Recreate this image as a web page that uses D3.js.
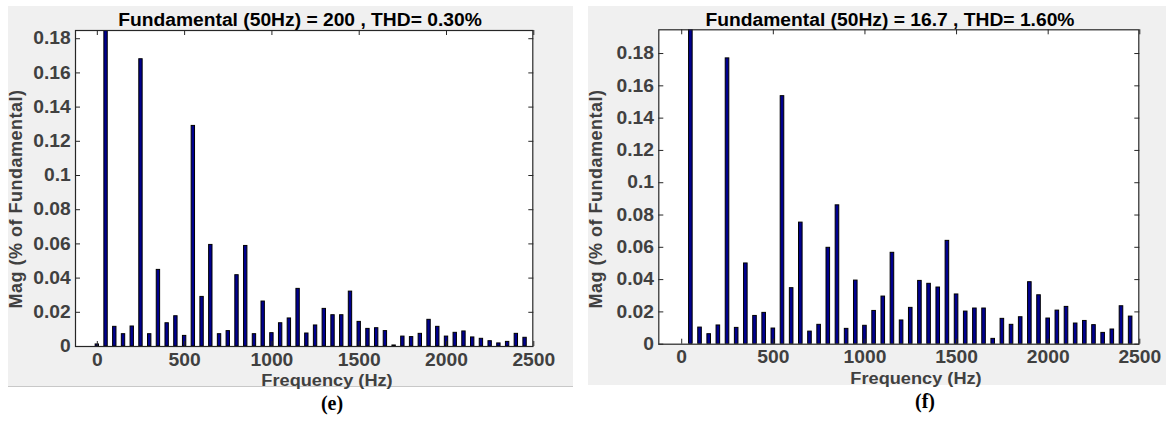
<!DOCTYPE html>
<html>
<head>
<meta charset="utf-8">
<script src="https://cdn.jsdelivr.net/npm/d3@7"></script>
<style>
  html, body { margin: 0; padding: 0; background: #ffffff; }
  svg { display: block; }
</style>
</head>
<body>
<svg id="chart" width="1166" height="423"></svg>
<script>
// Harmonic frequencies of the FFT spectrum (Hz)
const frequencies = [
  0, 50, 100, 150, 200, 250, 300, 350, 400, 450,
  500, 550, 600, 650, 700, 750, 800, 850, 900, 950,
  1000, 1050, 1100, 1150, 1200, 1250, 1300, 1350, 1400, 1450,
  1500, 1550, 1600, 1650, 1700, 1750, 1800, 1850, 1900, 1950,
  2000, 2050, 2100, 2150, 2200, 2250, 2300, 2350, 2400, 2450
];

// Case (e): magnitudes in % of fundamental (fundamental = 100)
const magnitudesE = [
  0.0012, 100, 0.0115, 0.0072, 0.0117, 0.168, 0.0072, 0.0448, 0.0136, 0.0177,
  0.0062, 0.129, 0.029, 0.0594, 0.0072, 0.009, 0.0417, 0.0588, 0.0072, 0.0263,
  0.0078, 0.0136, 0.0164, 0.0337, 0.0076, 0.0123, 0.022, 0.0183, 0.0183, 0.0321,
  0.0144, 0.0103, 0.0107, 0.009, 0.0006, 0.0058, 0.0055, 0.0074, 0.0156, 0.0115,
  0.0058, 0.008, 0.0088, 0.0053, 0.0045, 0.0031, 0.0018, 0.0027, 0.0074, 0.0051
];

// Case (f): magnitudes in % of fundamental (fundamental = 100)
const magnitudesF = [
  0, 100, 0.0103, 0.0062, 0.0116, 0.177, 0.0101, 0.05, 0.0175, 0.0194,
  0.0097, 0.1536, 0.0347, 0.0753, 0.0078, 0.012, 0.0597, 0.086, 0.0095, 0.0394,
  0.0114, 0.0206, 0.0295, 0.0566, 0.0147, 0.0225, 0.0392, 0.0374, 0.0351, 0.064,
  0.0308, 0.0202, 0.0221, 0.0221, 0.0033, 0.0157, 0.012, 0.0167, 0.0384, 0.0303,
  0.0159, 0.0208, 0.0231, 0.0128, 0.0144, 0.0118, 0.007, 0.0091, 0.0235, 0.0171
];

const fundamentalFreq = 50;
const titleE = "Fundamental (50Hz) = 200 , THD= 0.30%";
const titleF = "Fundamental (50Hz) = 16.7 , THD= 1.60%";
const captionE = "(e)";
const captionF = "(f)";

const xTicks = [0, 500, 1000, 1500, 2000, 2500];
const xTickLabels = ["0", "500", "1000", "1500", "2000", "2500"];
const yTicks = [0, 0.02, 0.04, 0.06, 0.08, 0.1, 0.12, 0.14, 0.16, 0.18];
const yTickLabels = ["0", "0.02", "0.04", "0.06", "0.08", "0.1", "0.12", "0.14", "0.16", "0.18"];
const xLimits = [-125, 2500];

const xLabel = "Frequency (Hz)";
const yLabel = "Mag (% of Fundamental)";

const svg = d3.select("#chart");

const SANS = "'Liberation Sans', Arial, Helvetica, sans-serif";
const SERIF = "'Liberation Serif', 'Times New Roman', serif";
const BAR_FILL = "#00008f";
const AXIS_COLOR = "#262626";
const TEXT_GRAY = "#404040";
const FIG_BG = "#f0f0f0";
const STRETCH = 1.07;

function drawPanel(cfg, values, title, caption, id) {
  const g = svg.append("g").style("font-family", SANS);

  // figure background
  g.append("rect")
    .attr("x", cfg.bg.x0).attr("y", cfg.bg.y0)
    .attr("width", cfg.bg.x1 - cfg.bg.x0).attr("height", cfg.bg.y1 - cfg.bg.y0)
    .attr("fill", FIG_BG);
  if (cfg.bottomEdge) {
    g.append("line")
      .attr("x1", cfg.bg.x0).attr("x2", cfg.bg.x1)
      .attr("y1", cfg.bg.y1 - 0.5).attr("y2", cfg.bg.y1 - 0.5)
      .attr("stroke", "#c8c8c8");
  }

  const x = d3.scaleLinear().domain(xLimits).range([cfg.left, cfg.right]);
  // y-limit follows the largest harmonic (fundamental excluded) plus 10 %
  const harmonics = values.filter((v, i) => frequencies[i] !== fundamentalFreq);
  const y = d3.scaleLinear().domain([0, d3.max(harmonics) * 1.1]).range([cfg.bottom, cfg.top]);

  // plot area
  g.append("rect")
    .attr("x", cfg.left).attr("y", cfg.top)
    .attr("width", cfg.right - cfg.left).attr("height", cfg.bottom - cfg.top)
    .attr("fill", "#ffffff");

  g.append("clipPath").attr("id", "clip-" + id)
    .append("rect")
    .attr("x", cfg.left).attr("y", cfg.top)
    .attr("width", cfg.right - cfg.left).attr("height", cfg.bottom - cfg.top);

  const step = x(50) - x(0);
  const outer = step * 0.5;

  g.append("g").attr("clip-path", `url(#clip-${id})`)
    .selectAll("rect")
    .data(frequencies.map((f, i) => ({ f, v: values[i] })))
    .join("rect")
    .attr("x", d => x(d.f) - outer / 2 + 0.5)
    .attr("width", outer - 1)
    .attr("y", d => y(d.v))
    .attr("height", d => Math.max(0, y(0) - y(d.v)))
    .attr("fill", BAR_FILL)
    .attr("stroke", "#000000")
    .attr("stroke-width", 1);

  // axes
  const axB = g.append("g").attr("transform", `translate(0,${cfg.bottom})`)
    .call(d3.axisBottom(x).tickValues(xTicks)
      .tickFormat((d, i) => xTickLabels[i])
      .tickSizeInner(-5).tickSizeOuter(0).tickPadding(7));
  const axT = g.append("g").attr("transform", `translate(0,${cfg.top})`)
    .call(d3.axisTop(x).tickValues(xTicks).tickFormat("")
      .tickSizeInner(-5).tickSizeOuter(0));
  const axL = g.append("g").attr("transform", `translate(${cfg.left},0)`)
    .call(d3.axisLeft(y).tickValues(yTicks)
      .tickFormat((d, i) => yTickLabels[i])
      .tickSizeInner(-5).tickSizeOuter(0).tickPadding(4));
  const axR = g.append("g").attr("transform", `translate(${cfg.right},0)`)
    .call(d3.axisRight(y).tickValues(yTicks).tickFormat("")
      .tickSizeInner(-5).tickSizeOuter(0));

  [axB, axT, axL, axR].forEach(a => {
    a.attr("font-family", null).attr("font-size", null);
    a.select(".domain").remove();
    a.selectAll(".tick line").attr("stroke", AXIS_COLOR);
    a.selectAll("text")
      .attr("fill", TEXT_GRAY)
      .style("font-family", SANS)
      .style("font-size", "18px")
      .style("font-weight", "bold");
  });
  axB.selectAll(".tick text").attr("transform", `scale(${STRETCH},1)`);
  axL.selectAll(".tick text").attr("transform", `scale(${STRETCH},1)`);

  // box
  g.append("rect")
    .attr("x", cfg.left + 0.5).attr("y", cfg.top + 0.5)
    .attr("width", cfg.right - cfg.left - 1).attr("height", cfg.bottom - cfg.top)
    .attr("fill", "none").attr("stroke", AXIS_COLOR).attr("stroke-width", 1.2);

  // title
  g.append("text")
    .attr("transform", `translate(${cfg.titleX},${cfg.titleY}) scale(${STRETCH},1)`)
    .attr("text-anchor", "middle")
    .style("font-size", "18px").style("font-weight", "bold").attr("fill", "#000000")
    .text(title);

  // axis labels
  g.append("text")
    .attr("transform", `translate(${cfg.xLabelX},${cfg.xLabelY}) scale(${STRETCH},1)`)
    .attr("text-anchor", "middle")
    .style("font-size", "17px").style("font-weight", "bold").attr("fill", TEXT_GRAY)
    .text(xLabel);
  g.append("text")
    .attr("transform", `translate(${cfg.yLabelX},${cfg.yLabelY}) rotate(-90)`)
    .attr("text-anchor", "middle")
    .style("font-size", "18px").style("font-weight", "bold").attr("fill", TEXT_GRAY)
    .style("letter-spacing", "0.5px")
    .text(yLabel);

  // caption under the panel
  svg.append("text")
    .attr("x", cfg.captionX).attr("y", cfg.captionY)
    .attr("text-anchor", "middle")
    .style("font-family", SERIF)
    .style("font-size", "20px").style("font-weight", "bold").attr("fill", "#000000")
    .text(caption);
}

drawPanel({
  bg: { x0: 8, y0: 6, x1: 573, y1: 387 }, bottomEdge: true,
  left: 75, right: 533.3, top: 30, bottom: 346,
  titleX: 300, titleY: 26,
  xLabelX: 327, xLabelY: 385.5,
  yLabelX: 21.5, yLabelY: 199,
  captionX: 332, captionY: 410
}, magnitudesE, titleE, captionE, "e");

drawPanel({
  bg: { x0: 588, y0: 6, x1: 1166, y1: 385 }, bottomEdge: false,
  left: 658.3, right: 1139.3, top: 29.3, bottom: 343.7,
  titleX: 890, titleY: 26,
  xLabelX: 916, xLabelY: 383.5,
  yLabelX: 602, yLabelY: 199,
  captionX: 925, captionY: 408
}, magnitudesF, titleF, captionF, "f");
</script>
</body>
</html>
